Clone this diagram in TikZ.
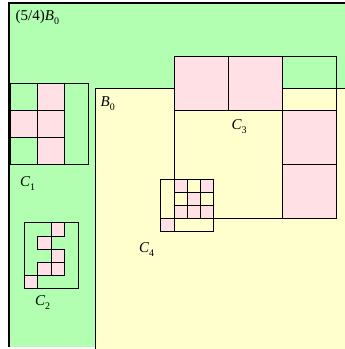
\documentclass[tikz,border=0pt]{standalone}
\usepackage{fontspec}
\setmainfont{Liberation Serif}
\definecolor{bgreen}{RGB}{178,255,178}
\definecolor{bpink}{RGB}{255,224,229}
\definecolor{byellow}{RGB}{255,255,206}
\newcommand{\lab}[2]{{\itshape #1}\raisebox{-0.28em}{\fontsize{10}{11}\selectfont #2}}
\begin{document}
\begin{tikzpicture}[x=1pt,y=-1pt,
  thin line/.style={draw=black,line width=0.8pt},
  pinkcell/.style={fill=bpink,draw=black,line width=0.8pt},
  labl/.style={anchor=base west,inner sep=0pt,font=\fontsize{15}{17}\selectfont}]
\useasboundingbox (0,0) rectangle (345,349);
% outer region (5/4)B0
\fill[bgreen] (8.5,2.5) rectangle (345,347);
\draw[line width=2pt] (8.5,347) -- (8.5,2.5) -- (345,2.5);
% B0
\fill[byellow] (95.5,88.3) rectangle (345,349);
\draw[thin line] (95.5,349) -- (95.5,88.3) -- (345,88.3);
% C1
\fill[pinkcell] (37.3,83.3) rectangle (64.3,110.3);
\fill[pinkcell] (10,110.3) rectangle (37.3,137.3);
\fill[pinkcell] (37.3,110.3) rectangle (64.3,137.3);
\fill[pinkcell] (37.3,137.3) rectangle (64.3,164);
\draw[pinkcell,fill=none] (10,83.3) rectangle (37.3,164);
\draw[thin line] (9,83.3) rectangle (88,164);
% C2
\draw[pinkcell] (51,222.7) rectangle (64.3,236);
\draw[pinkcell] (37.5,236) rectangle (51,249.3);
\draw[pinkcell] (51,249.3) rectangle (64.3,262.2);
\draw[pinkcell] (37.5,262.2) rectangle (51,275);
\draw[pinkcell] (51,262.2) rectangle (64.3,275);
\draw[pinkcell] (24,275) rectangle (37.5,288);
\draw[thin line] (24,222.7) rectangle (78.3,288);
% C3
\draw[pinkcell] (174.3,56) rectangle (228.4,110.1);
\draw[pinkcell] (228.4,56) rectangle (282.5,110.1);
\draw[pinkcell] (282.5,110.1) rectangle (336.7,164.2);
\draw[pinkcell] (282.5,164.2) rectangle (336.7,218.3);
\draw[thin line] (174.3,56) rectangle (336.7,218.3);
\draw[thin line] (174.3,110.1) -- (336.7,110.1);
\draw[thin line] (282.5,56) -- (282.5,218.3);
% C4
\draw[pinkcell] (174.3,179) rectangle (187.7,192);
\draw[pinkcell] (200.7,179) rectangle (213.3,192);
\draw[pinkcell] (187.7,192) rectangle (200.7,205.3);
\draw[pinkcell] (174.3,205.3) rectangle (187.7,218.3);
\draw[pinkcell] (187.7,205.3) rectangle (200.7,218.3);
\draw[pinkcell] (200.7,205.3) rectangle (213.3,218.3);
\draw[pinkcell] (160.7,218.3) rectangle (174.3,231);
\draw[thin line] (160.7,179) rectangle (213.3,231);
% labels
\node[labl] (lB54) at (15.5,20.7) {(5/4)\lab{B}{0}};
\node[labl] (lB0) at (100.5,106.7) {\lab{B}{0}};
\node[labl] (lC1) at (20,186) {\lab{C}{1}};
\node[labl] (lC2) at (35,305) {\lab{C}{2}};
\node[labl] (lC3) at (231.5,129.3) {\lab{C}{3}};
\node[labl] (lC4) at (139,252.3) {\lab{C}{4}};
\end{tikzpicture}
\end{document}
